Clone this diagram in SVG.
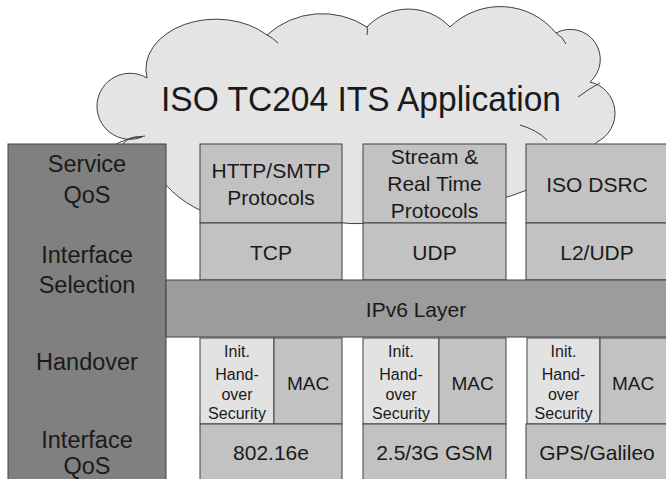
<svg xmlns="http://www.w3.org/2000/svg" width="666" height="479" viewBox="0 0 666 479">
<style>
text{font-family:"Liberation Sans",Arial,sans-serif;fill:#1a1a1a;text-anchor:middle}
.ln{stroke:#404040;stroke-width:1}
.col{fill:#808080}
.ip{fill:#9c9c9c}
.bx{fill:#c2c2c2}
.lt{fill:#e2e2e2}
.t23{font-size:23.5px}
.t21{font-size:21px}
.t19{font-size:19px}
.t16{font-size:16px}
.crease{fill:none;stroke:#404040;stroke-width:1}
</style>
<rect width="666" height="479" fill="#ffffff"/>
<g id="cloud">
<path d="M120,165 A20,20 0 0 1 142,137 A33,33 0 1 1 147,78 A70,50 0 0 1 267,35 A82,82 0 0 1 367,27 A57,57 0 0 1 450,27 A72,72 0 0 1 556,33 A30,30 0 0 1 590,82 A32,32 0 0 1 597,142 A200,200 0 0 1 450,205 A220,220 0 0 1 290,212 A110,110 0 0 1 160,178 Z" fill="#e4e4e4" class="ln"/>
<path class="crease" d="M267,35 Q273,38 278,43"/>
<path class="crease" d="M367,27 Q368,31 367,35"/>
<path class="crease" d="M556,33 Q563,37 566,44"/>
<path class="crease" d="M600,83 Q590,88 578,97"/>
<path class="crease" d="M520,125 Q537,130 547,140"/>
<path class="crease" d="M113,146 Q125,138 145,136"/>
<text x="361" y="111" font-size="35" textLength="400" lengthAdjust="spacingAndGlyphs">ISO TC204 ITS Application</text>
</g>
<g id="left-column">
<rect x="8" y="144" width="158" height="340" class="col ln"/>
<text class="t23" x="87" y="172">Service</text>
<text class="t23" x="87" y="203">QoS</text>
<text class="t23" x="87" y="263">Interface</text>
<text class="t23" x="87" y="293">Selection</text>
<text class="t23" x="87" y="370">Handover</text>
<text class="t23" x="87" y="448">Interface</text>
<text class="t23" x="87" y="474">QoS</text>
</g>
<g id="http">
<rect x="200" y="144" width="142" height="79" class="bx ln"/>
<text class="t21" x="271" y="178">HTTP/SMTP</text>
<text class="t21" x="271" y="205">Protocols</text>
</g>
<g id="tcp">
<rect x="200" y="223" width="142" height="57" class="bx ln"/>
<text class="t21" x="271" y="260">TCP</text>
</g>
<g id="stream">
<rect x="363" y="144" width="143" height="79" class="bx ln"/>
<text class="t21" x="434.5" y="164">Stream &amp;</text>
<text class="t21" x="434.5" y="191">Real Time</text>
<text class="t21" x="434.5" y="218">Protocols</text>
</g>
<g id="udp">
<rect x="363" y="223" width="143" height="57" class="bx ln"/>
<text class="t21" x="434.5" y="260">UDP</text>
</g>
<g id="isodsrc">
<rect x="526" y="144" width="150" height="79" class="bx ln"/>
<text class="t21" x="597" y="192">ISO DSRC</text>
</g>
<g id="l2udp">
<rect x="526" y="223" width="150" height="57" class="bx ln"/>
<text class="t21" x="597" y="260">L2/UDP</text>
</g>
<g id="ipv6">
<rect x="166" y="280" width="510" height="57" class="ip ln"/>
<text class="t21" x="416" y="317">IPv6 Layer</text>
</g>
<g id="init1">
<rect x="200" y="338" width="74" height="86" class="lt ln"/>
<text class="t16" x="237" y="357">Init.</text>
<text class="t16" x="237" y="380">Hand-</text>
<text class="t16" x="237" y="400">over</text>
<text class="t16" x="237" y="419">Security</text>
</g>
<g id="mac1">
<rect x="274" y="338" width="68" height="86" class="bx ln"/>
<text class="t19" x="308" y="390">MAC</text>
</g>
<g id="wimax">
<rect x="200" y="424" width="142" height="60" class="bx ln"/>
<text class="t21" x="271" y="460">802.16e</text>
</g>
<g id="init2">
<rect x="363" y="338" width="76" height="86" class="lt ln"/>
<text class="t16" x="401" y="357">Init.</text>
<text class="t16" x="401" y="380">Hand-</text>
<text class="t16" x="401" y="400">over</text>
<text class="t16" x="401" y="419">Security</text>
</g>
<g id="mac2">
<rect x="439" y="338" width="67" height="86" class="bx ln"/>
<text class="t19" x="472.5" y="390">MAC</text>
</g>
<g id="gsm">
<rect x="363" y="424" width="143" height="60" class="bx ln"/>
<text class="t21" x="434.5" y="460">2.5/3G GSM</text>
</g>
<g id="init3">
<rect x="527" y="338" width="73" height="86" class="lt ln"/>
<text class="t16" x="563.5" y="357">Init.</text>
<text class="t16" x="563.5" y="380">Hand-</text>
<text class="t16" x="563.5" y="400">over</text>
<text class="t16" x="563.5" y="419">Security</text>
</g>
<g id="mac3">
<rect x="600" y="338" width="76" height="86" class="bx ln"/>
<text class="t19" x="633" y="390">MAC</text>
</g>
<g id="gps">
<rect x="526" y="424" width="150" height="60" class="bx ln"/>
<text class="t21" x="597" y="460">GPS/Galileo</text>
</g>
</svg>
